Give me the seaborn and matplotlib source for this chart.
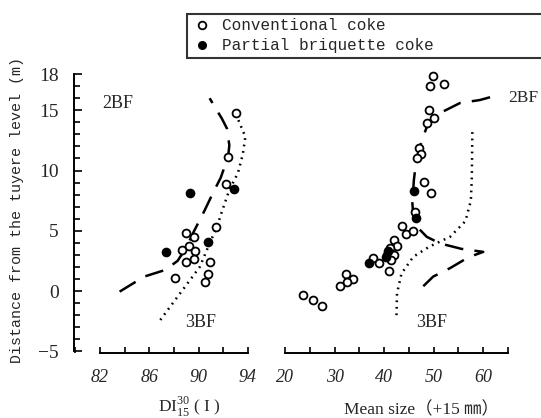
import numpy as np
import pandas as pd
import matplotlib
matplotlib.use('Agg')
import matplotlib.pyplot as plt
import matplotlib.ticker as ticker
from matplotlib.lines import Line2D
import seaborn as sns

# ── Data ────────────────────────────────────────────────────────────────────
# left panel: DI 30/15 vs height
di_conv_x = [93.0, 92.4, 92.2, 91.4, 89.0, 89.6, 89.2, 88.7, 89.7, 89.6, 89.0, 90.9, 88.1, 90.8, 90.5]
di_conv_y = [14.8, 11.15, 8.85, 5.3, 4.8, 4.45, 3.75, 3.4, 3.35, 2.65, 2.4, 2.4, 1.1, 1.4, 0.75]
di_brq_x = [89.3, 92.9, 90.8, 87.4]
di_brq_y = [8.1, 8.45, 4.1, 3.25]

di_2bf_x = [83.6, 85.6, 87.3, 88.3, 89.0, 89.6, 90.5, 91.2, 91.8, 92.4, 92.5, 92.3, 91.9, 90.9]
di_2bf_y = [-0.05, 1.2, 1.75, 2.5, 3.6, 4.9, 6.7, 8.2, 9.4, 11.15, 12.1, 13.5, 14.3, 16.0]
di_3bf_x = [86.9, 88.5, 90.1, 90.9, 91.5, 91.9, 92.5, 93.2, 93.6, 93.8, 93.0]
di_3bf_y = [-2.4, -0.2, 2.0, 3.95, 5.35, 6.6, 8.4, 9.8, 11.4, 12.8, 14.75]

# right panel: mean size vs height
ms_conv_x = [49.9, 49.2, 52.0, 49.1, 50.1, 48.7, 47.0, 47.4, 46.7, 48.0, 49.4, 46.3,
             43.7, 44.4, 45.9, 42.0, 42.5, 41.2, 40.5, 42.0, 41.3, 40.9, 37.8, 38.95,
             32.3, 33.8, 32.6, 31.0, 23.7, 25.7, 27.4]
ms_conv_y = [17.85, 17.05, 17.2, 15.0, 14.4, 13.95, 11.9, 11.4, 11.0, 9.05, 8.1, 6.6,
             5.4, 4.7, 5.0, 4.25, 3.7, 3.55, 3.0, 3.0, 2.55, 1.7, 2.75, 2.3,
             1.4, 1.0, 0.75, 0.45, -0.3, -0.75, -1.2]
ms_brq_x = [46.1, 46.4, 40.7, 40.4, 36.9]
ms_brq_y = [8.3, 6.1, 3.3, 2.8, 2.3]

ms_2bf_x = [47.9, 49.9, 53.3, 57.0, 60.0, 55.6, 51.3, 48.6, 46.0, 45.7, 46.0, 46.5,
            47.6, 48.6, 49.9, 51.9, 55.3, 59.3, 63.3]
ms_2bf_y = [0.4, 1.2, 1.9, 2.8, 3.25, 3.5, 3.95, 4.5, 5.6, 7.3, 9.2, 10.9,
            12.5, 13.6, 14.5, 14.9, 15.6, 15.85, 16.3]
ms_3bf_x = [42.5, 42.6, 43.5, 45.9, 49.2, 53.3, 56.4, 57.5, 57.7, 57.8]
ms_3bf_y = [-2.0, -0.2, 1.45, 2.85, 3.7, 4.5, 5.8, 7.5, 9.5, 13.4]

y_major = [-5, 0, 5, 10, 15, 18]
di_ticks = [82, 86, 90, 94]
ms_ticks = [20, 30, 40, 50, 60]

# ── Style ───────────────────────────────────────────────────────────────────
sns.set_theme(style='white')
plt.rcParams['font.family'] = ['Liberation Serif', 'Noto Sans CJK JP', 'DejaVu Sans']
plt.rcParams['mathtext.fontset'] = 'custom'
plt.rcParams['mathtext.rm'] = 'Liberation Serif'
plt.rcParams['xtick.direction'] = 'in'
plt.rcParams['ytick.direction'] = 'in'

fig = plt.figure(figsize=(5.41, 4.18), dpi=100)
W, H = 541, 418
ax1 = fig.add_axes([74 / W, (H - 352.5) / H, 176.3 / W, 285.6 / H])
ax2 = fig.add_axes([282.5 / W, (H - 352.5) / H, 230.5 / W, 285.6 / H])

ylim = (-5.1, 18.6)
mk = dict(s=32, marker='o', linewidth=1.3, edgecolor='black', zorder=3)


def curves(ax, x2, y2, x3, y3):
    sns.lineplot(x=x2, y=y2, sort=False, estimator=None, ax=ax, color='black',
                 linewidth=1.8, linestyle=(0, (7.5, 4.5)))
    sns.lineplot(x=x3, y=y3, sort=False, estimator=None, ax=ax, color='black',
                 linewidth=1.8, linestyle=(0, (0.7, 1.9)))


curves(ax1, di_2bf_x, di_2bf_y, di_3bf_x, di_3bf_y)
sns.scatterplot(x=di_conv_x, y=di_conv_y, ax=ax1, facecolor='white', **mk)
sns.scatterplot(x=di_brq_x, y=di_brq_y, ax=ax1, color='black', **mk)

curves(ax2, ms_2bf_x, ms_2bf_y, ms_3bf_x, ms_3bf_y)
sns.scatterplot(x=ms_conv_x, y=ms_conv_y, ax=ax2, facecolor='white', **mk)
sns.scatterplot(x=ms_brq_x, y=ms_brq_y, ax=ax2, color='black', **mk)

# ── Axes ────────────────────────────────────────────────────────────────────
ax1.set_xlim(79.9, 94.2)
ax2.set_xlim(19.5, 66)
for ax in (ax1, ax2):
    ax.set_ylim(*ylim)
    for s in ('top', 'right'):
        ax.spines[s].set_visible(False)
    ax.spines['bottom'].set_linewidth(1.4)
    ax.spines['bottom'].set_color('black')
    ax.tick_params(axis='x', which='both', direction='in', color='black', width=1.2,
                   bottom=True, length=4, labelsize=13, pad=12)
    ax.set_xlabel('')
    ax.set_ylabel('')

ax1.spines['bottom'].set_bounds(82, 94)
ax1.xaxis.set_major_locator(ticker.FixedLocator(di_ticks))
ax1.xaxis.set_minor_locator(ticker.MultipleLocator(2))
ax1.set_xticklabels([str(t) for t in di_ticks], fontstyle='italic')

ax2.spines['bottom'].set_bounds(20, 65)
ax2.spines['left'].set_visible(False)
ax2.xaxis.set_major_locator(ticker.FixedLocator(ms_ticks))
ax2.xaxis.set_minor_locator(ticker.MultipleLocator(5))
ax2.set_xticklabels([str(t) for t in ms_ticks], fontstyle='italic')
ax2.set_yticks([])

ax1.spines['left'].set_bounds(-5, 18)
ax1.spines['left'].set_linewidth(1.4)
ax1.spines['left'].set_color('black')
ax1.yaxis.set_major_locator(ticker.FixedLocator(y_major))
ax1.yaxis.set_minor_locator(ticker.MultipleLocator(1))
ax1.set_yticklabels(['\u22125', '0', '5', '10', '15', '18'])
ax1.tick_params(axis='y', which='both', direction='in', left=True, color='black',
                width=1.2, labelsize=14, pad=11)
ax1.tick_params(axis='y', which='major', length=6)
ax1.tick_params(axis='y', which='minor', length=4)

# ── Labels ──────────────────────────────────────────────────────────────────
ax1.text(82.2, 15.6, '2BF', fontsize=13, va='center', ha='left')
ax1.text(88.9, -2.6, '3BF', fontsize=13, va='center', ha='left')
ax2.text(65.1, 16.0, '2BF', fontsize=12.5, va='center', ha='left', clip_on=False)
ax2.text(46.4, -2.65, '3BF', fontsize=13, va='center', ha='left')

ax1.text(0.652, -0.19, r'DI$_{15}^{30}$ ( I )', transform=ax1.transAxes,
         ha='center', va='center', fontsize=12.5)
ax2.text(0.601, -0.2, 'Mean size（+15 ㎜）', transform=ax2.transAxes,
         ha='center', va='center', fontsize=12.5)

fig.text(17 / W, 1 - 210 / H, 'Distance from the tuyere level (m)', rotation=90,
         ha='center', va='center', fontsize=10.8, family='Liberation Mono')

# ── Legend ──────────────────────────────────────────────────────────────────
handles = [
    Line2D([], [], linestyle='none', marker='o', markersize=5.5, markerfacecolor='white',
           markeredgecolor='black', markeredgewidth=1.3),
    Line2D([], [], linestyle='none', marker='o', markersize=5.5, markerfacecolor='black',
           markeredgecolor='black'),
]
leg = fig.legend(handles, ['Conventional coke', 'Partial briquette coke'],
                 loc='lower left', mode='expand',
                 bbox_to_anchor=(187 / W, (H - 58) / H, 0.8, 45 / H),
                 bbox_transform=fig.transFigure, frameon=True, fancybox=False,
                 prop={'family': 'Liberation Mono', 'size': 11.5},
                 handletextpad=0.6, handlelength=1.3, borderpad=0.3,
                 labelspacing=0.3, borderaxespad=0)
leg.get_frame().set_edgecolor('black')
leg.get_frame().set_linewidth(1.5)

fig.savefig('out.png', dpi=100, facecolor='white')
